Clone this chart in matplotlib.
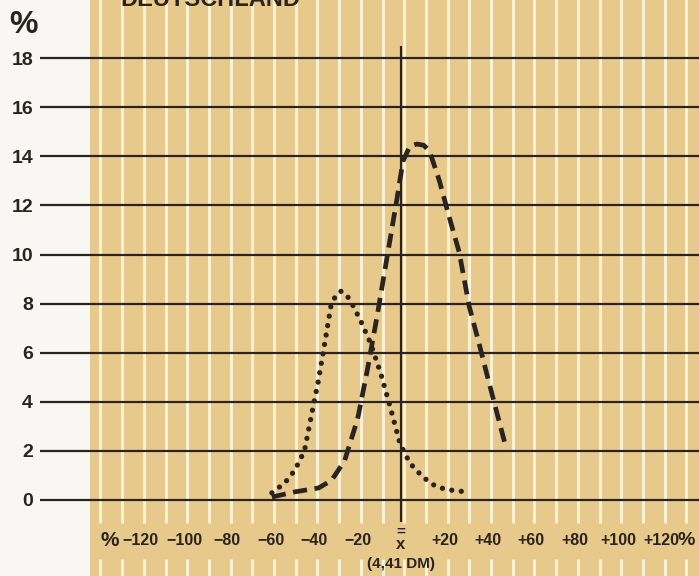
import matplotlib.pyplot as plt

# --- data ---
pct_ticks = [0, 2, 4, 6, 8, 10, 12, 14, 16, 18]
dev_values = [-120, -100, -80, -60, -40, -20, 20, 40, 60, 80, 100, 120]
dev_labels = ['−120', '−100', '−80', '−60', '−40', '−20',
              '+20', '+40', '+60', '+80', '+100', '+120']

# dashed curve
dash_x = [-59.5, -49, -38, -32, -26, -20, -15.5, -11, -6.4, -1.8, 0.9, 4,
          7.3, 10.5, 13.2, 17.7, 22.3, 26.8, 31.4, 35.9, 40.5, 48.2]
dash_y = [0.12, 0.33, 0.49, 0.8, 1.6, 3.3, 5.3, 7.5, 9.9, 12.3, 13.8, 14.4,
          14.5, 14.45, 14.2, 13.0, 11.5, 10.1, 7.9, 6.4, 4.8, 2.2]

# dotted curve
dot_x = [-59.5, -53.6, -49, -44.5, -41.4, -38.2, -35.5, -32.3, -30, -27.7, -25.5,
         -23.2, -18.6, -14.1, -9.5, -5, -0.5, 4.1, 10, 16.4, 22.3, 30]
dot_y = [0.29, 0.69, 1.2, 2.0, 3.4, 4.8, 6.2, 7.9, 8.35, 8.5, 8.4,
         8.1, 7.3, 6.4, 5.2, 3.8, 2.3, 1.5, 0.94, 0.53, 0.41, 0.33]

# --- colours ---
tan = '#e8c98c'
stripe = '#fbf2d6'
ink = '#2a2420'
font = 'Liberation Sans'

W, H = 699, 576
fig = plt.figure(figsize=(W / 100, H / 100), dpi=100, facecolor='#f8f7f4')
ax = fig.add_axes([40 / W, 0, (W - 40) / W, 1])
ax.set_facecolor('none')

# pixel scale: x0 = 401 px, 2.17 px per %; y0 = 500 px, 24.55 px per %
ax.set_xlim(-361 / 2.17, 298 / 2.17)
ax.set_ylim(-76 / 24.55, 500 / 24.55)
for s in ax.spines.values():
    s.set_visible(False)

# tan paper
ax.axvspan(-311 / 2.17, 298 / 2.17, color=tan, zorder=0, lw=0)

# white stripes every 10 %, broken by the label band
stripes = [10 * k + 1.5 for k in range(-14, 14)]
ax.vlines(stripes, -0.93, 21, color=stripe, lw=2.2, zorder=1)
ax.vlines(stripes, -3.2, -2.4, color=stripe, lw=2.2, zorder=1)

# horizontal rules
for v in pct_ticks:
    ax.axhline(v, color=ink, lw=1.6, zorder=2)

# vertical mean line
ax.vlines(0, -0.9, 18.5, color=ink, lw=1.6, zorder=2)

# curves
ax.plot(dash_x, dash_y, color=ink, lw=3.4, ls=(0, (3.0, 1.6)),
        dash_capstyle='butt', solid_joinstyle='round', zorder=3)
ax.plot(dot_x, dot_y, color=ink, lw=3.8, ls=(0, (0.01, 1.8)),
        dash_capstyle='round', zorder=3)

# y ticks
ax.set_xticks([])
ax.set_yticks(pct_ticks)
ax.set_yticklabels([str(v) for v in pct_ticks], fontsize=14,
                   fontweight='bold', color=ink, family=font)
ax.tick_params(axis='y', length=0, pad=5)
fig.text(24 / W, 1 - 25 / H, '%', fontsize=23, fontweight='bold', color=ink,
         ha='center', va='center', family=font)

# x labels
ly = -1.67
for v, lab in zip(dev_values, dev_labels):
    ax.text(v, ly, lab, ha='center', va='center', fontsize=11.5,
            fontweight='bold', color=ink, family=font, zorder=4)
ax.text(-134, ly, '%', ha='center', va='center', fontsize=15,
        fontweight='bold', color=ink, family=font, zorder=4)
ax.text(131.5, ly, '%', ha='center', va='center', fontsize=14,
        fontweight='bold', color=ink, family=font, zorder=4)
ax.text(0, -1.8, 'x', ha='center', va='center', fontsize=12,
        fontweight='bold', color=ink, family=font, zorder=4)
ax.text(0, -1.3, '=', ha='center', va='center', fontsize=11,
        fontweight='bold', color=ink, family=font, zorder=4)
ax.text(0, -2.6, '(4,41 DM)', ha='center', va='center', fontsize=11,
        fontweight='bold', color=ink, family=font, zorder=4)

# title, cut at the top edge
ax.text(-88, 20.37, 'DEUTSCHLAND', ha='center', va='center', fontsize=17,
        fontweight='bold', color=ink, family=font, zorder=4)

fig.savefig('out.png', dpi=100, facecolor=fig.get_facecolor())
